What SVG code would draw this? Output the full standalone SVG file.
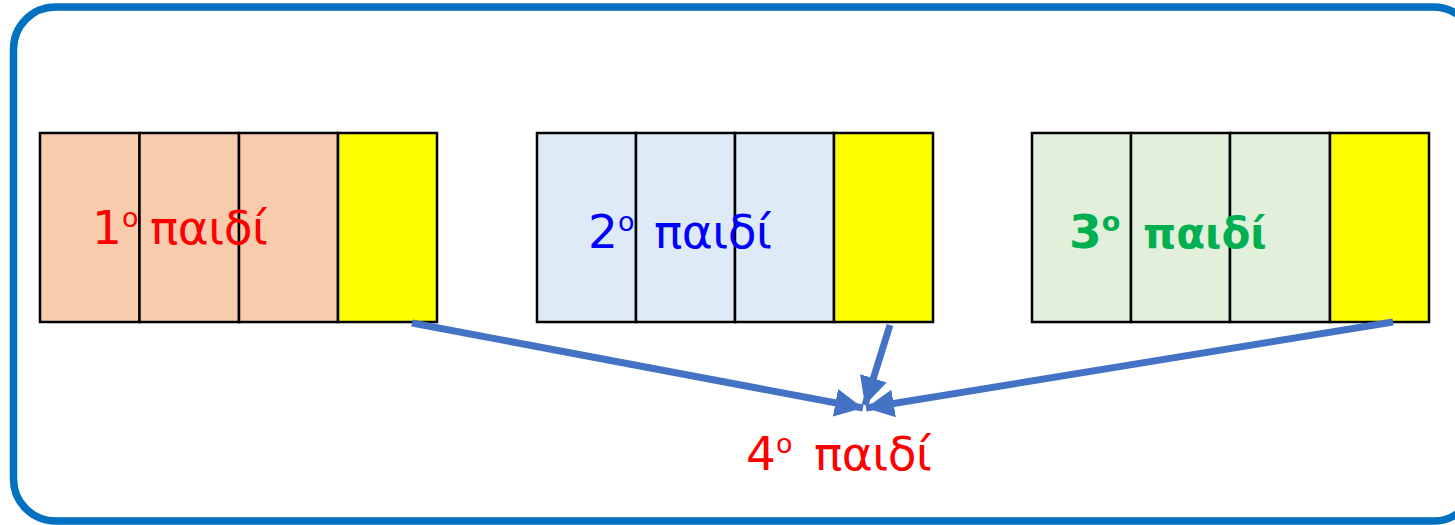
<svg xmlns="http://www.w3.org/2000/svg" width="1455" height="525" viewBox="0 0 1455 525">
  <style>
    .cell { stroke: #000; stroke-width: 2.5; }
    .share { fill: #FFFF00; }
    .lbl { font-family: "DejaVu Sans", "Noto Sans", sans-serif; font-size: 47px; }
    .sup { font-size: 27px; }
    .conn { stroke: #4472C4; stroke-width: 7; fill: none; }
  </style>
  <defs>
    <marker id="head" markerUnits="userSpaceOnUse" markerWidth="30" markerHeight="28" refX="28" refY="14" orient="auto">
      <path d="M0,0 L28,14 L0,28 Z" fill="#4472C4"/>
    </marker>
  </defs>

  <rect x="13.5" y="7" width="1462" height="514" rx="42" fill="#fff" stroke="#0070C0" stroke-width="7.5"/>

  <g id="child1">
    <rect class="cell" x="40" y="133" width="99.5" height="189" fill="#F8CBAD"/>
    <rect class="cell" x="139.5" y="133" width="99.5" height="189" fill="#F8CBAD"/>
    <rect class="cell" x="239" y="133" width="99" height="189" fill="#F8CBAD"/>
    <rect class="cell share" x="338" y="133" width="99" height="189"/>
    <text class="lbl" fill="#FF0000" x="92" y="244">1<tspan class="sup" dy="-17">ο</tspan><tspan x="150" dy="17" textLength="118">παιδί</tspan></text>
  </g>

  <g id="child2">
    <rect class="cell" x="537" y="133" width="99" height="189" fill="#DEEBF7"/>
    <rect class="cell" x="636" y="133" width="99" height="189" fill="#DEEBF7"/>
    <rect class="cell" x="735" y="133" width="99" height="189" fill="#DEEBF7"/>
    <rect class="cell share" x="834" y="133" width="99" height="189"/>
    <text class="lbl" fill="#0000FF" x="588" y="248">2<tspan class="sup" dy="-17">ο</tspan><tspan x="654" dy="17" textLength="118">παιδί</tspan></text>
  </g>

  <g id="child3">
    <rect class="cell" x="1032" y="133" width="99" height="189" fill="#E2EFDA"/>
    <rect class="cell" x="1131" y="133" width="99" height="189" fill="#E2EFDA"/>
    <rect class="cell" x="1230" y="133" width="100" height="189" fill="#E2EFDA"/>
    <rect class="cell share" x="1330" y="133" width="99" height="189"/>
    <text class="lbl" fill="#00B050" font-weight="bold" x="1069" y="248">3<tspan class="sup" dy="-17">ο</tspan><tspan x="1143" dy="17" font-size="42">παιδί</tspan></text>
  </g>

  <g id="child4">
    <text class="lbl" fill="#FF0000" x="746" y="470">4<tspan class="sup" dy="-17">ο</tspan><tspan x="814" dy="17" textLength="118">παιδί</tspan></text>
  </g>

  <g id="connectors">
    <line class="conn" x1="412" y1="323" x2="863" y2="408" marker-end="url(#head)"/>
    <line class="conn" x1="890" y1="325" x2="865" y2="405" marker-end="url(#head)"/>
    <line class="conn" x1="1393" y1="322" x2="866" y2="408" marker-end="url(#head)"/>
  </g>
</svg>
